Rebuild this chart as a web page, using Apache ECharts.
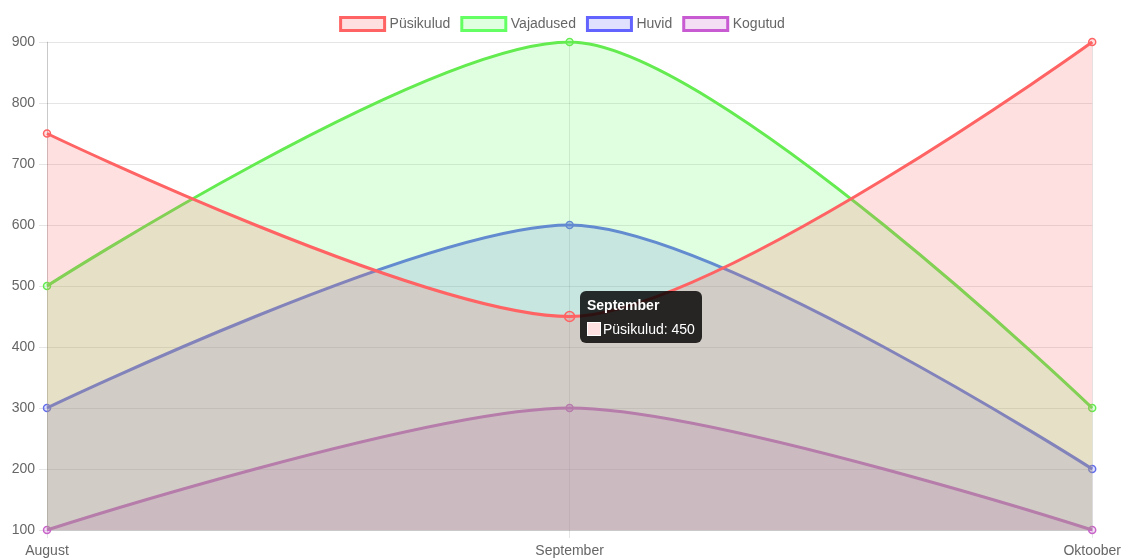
<!DOCTYPE html>
<html>
<head>
<meta charset="utf-8">
<script src="https://cdn.jsdelivr.net/npm/echarts@6/dist/echarts.min.js"></script>
<style>
  html, body { margin: 0; padding: 0; background: #fff; }
  #chart { width: 1124px; height: 559px; }
</style>
</head>
<body>
<div id="chart"></div>
<script>
const months = ['August', 'September', 'Oktoober'];
const seriesNames = ['Püsikulud', 'Vajadused', 'Huvid', 'Kogutud'];
const pysikulud = [750, 450, 900];
const vajadused = [500, 900, 300];
const huvid = [300, 600, 200];
const kogutud = [100, 300, 100];
const yTicks = [100, 200, 300, 400, 500, 600, 700, 800, 900];

const lineColors = ['rgb(255,99,99)', 'rgb(99,235,80)', 'rgb(99,110,235)', 'rgb(200,100,200)'];
const legendBorders = ['rgb(255,99,99)', 'rgb(99,255,99)', 'rgb(99,99,255)', 'rgb(200,90,210)'];
const fillColors = ['rgba(255,99,99,0.2)', 'rgba(99,255,99,0.2)', 'rgba(99,99,255,0.2)', 'rgba(200,90,210,0.2)'];
const allValues = [pysikulud, vajadused, huvid, kogutud];

const font = 'Liberation Sans, Arial, Helvetica, sans-serif';

const series = seriesNames.map(function (name, i) {
  return {
    name: name,
    type: 'line',
    smooth: 0.27,
    smoothMonotone: 'x',
    z: 10 - i,
    data: allValues[i].map(function (v, j) {
      if (i === 0 && j === 1) return { value: v, symbolSize: 10 };
      return v;
    }),
    symbol: 'circle',
    symbolSize: 7,
    showSymbol: true,
    lineStyle: { color: lineColors[i], width: 3 },
    itemStyle: { color: fillColors[i], borderColor: lineColors[i], borderWidth: 1.5 },
    areaStyle: { color: fillColors[i], origin: 'start', opacity: 1 },
    emphasis: { disabled: true }
  };
});

const chart = echarts.init(document.getElementById('chart'));
chart.setOption({
  animation: false,
  backgroundColor: '#fff',
  textStyle: { fontFamily: font },
  legend: {
    top: 11,
    left: 'center',
    itemWidth: 44,
    itemHeight: 13,
    itemGap: 10,
    icon: 'rect',
    textStyle: { color: '#666', fontSize: 14, fontFamily: font },
    data: seriesNames.map(function (n, i) {
      return {
        name: n,
        itemStyle: { color: fillColors[i], borderColor: legendBorders[i], borderWidth: 3 }
      };
    })
  },
  grid: { left: 47, right: 31, top: 42, bottom: 29, containLabel: false },
  tooltip: {
    trigger: 'item',
    triggerOn: 'none',
    alwaysShowContent: true,
    backgroundColor: 'rgba(0,0,0,0.82)',
    borderWidth: 0,
    borderRadius: 6,
    padding: [5, 7],
    extraCssText: 'box-shadow:none;',
    position: function (point) { return [point[0] + 10, point[1] - 26]; },
    formatter: function (p) {
      return '<div style="font:bold 14px ' + font + ';color:#fff;line-height:18px;">' +
        months[p.dataIndex] + '</div>' +
        '<div style="font:14px ' + font + ';color:#fff;line-height:18px;margin-top:6px;">' +
        '<span style="display:inline-block;width:14px;height:14px;box-sizing:border-box;border:1.5px solid #fff;background:#ffe0e0;vertical-align:-2px;margin-right:2px;"></span>' +
        p.seriesName + ': ' + p.value + '</div>';
    }
  },
  xAxis: {
    type: 'category',
    boundaryGap: false,
    data: months,
    axisLine: { show: true, lineStyle: { color: 'rgba(0,0,0,0.12)' } },
    axisTick: { show: true, length: 8, lineStyle: { color: 'rgba(0,0,0,0.1)' } },
    axisLabel: { color: '#666', fontSize: 14, margin: 14, fontFamily: font },
    splitLine: { show: true, lineStyle: { color: 'rgba(0,0,0,0.1)' } }
  },
  yAxis: {
    type: 'value',
    min: yTicks[0],
    max: yTicks[yTicks.length - 1],
    interval: 100,
    axisLine: { show: true, lineStyle: { color: 'rgba(0,0,0,0.12)' } },
    axisTick: { show: true, length: 8, lineStyle: { color: 'rgba(0,0,0,0.1)' } },
    axisLabel: { color: '#666', fontSize: 14, margin: 12, fontFamily: font },
    splitLine: { show: true, lineStyle: { color: 'rgba(0,0,0,0.1)' } }
  },
  series: series
});

chart.dispatchAction({ type: 'showTip', seriesIndex: 0, dataIndex: 1 });
</script>
</body>
</html>
